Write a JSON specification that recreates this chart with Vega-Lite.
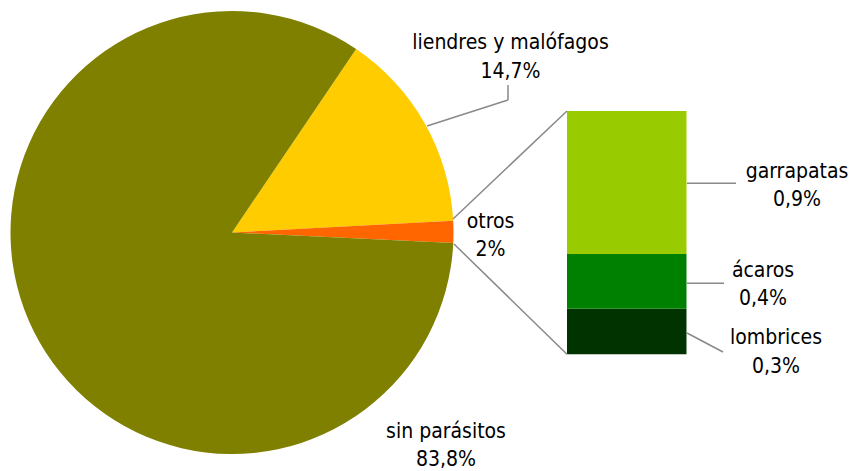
{
  "$schema": "https://vega.github.io/schema/vega-lite/v6.json",
  "width": 854,
  "height": 471,
  "padding": 0,
  "autosize": {"type": "none"},
  "background": "white",
  "config": {
    "view": {"stroke": null},
    "text": {"lineBreak": "\n", "font": "DejaVu Sans Condensed, DejaVu Sans", "fontSize": 21, "lineHeight": 28.5, "align": "center", "baseline": "middle", "color": "#000000"}
  },
  "data": {"values": [
    {"categoria": "liendres y malófagos", "valor": 14.7, "etiqueta": "14,7%", "grupo": "circular", "orden": 1},
    {"categoria": "otros", "valor": 1.6, "etiqueta": "2%", "grupo": "circular", "orden": 2},
    {"categoria": "sin parásitos", "valor": 83.8, "etiqueta": "83,8%", "grupo": "circular", "orden": 3},
    {"categoria": "lombrices", "valor": 0.30, "etiqueta": "0,3%", "grupo": "barra", "orden": 1},
    {"categoria": "ácaros", "valor": 0.36, "etiqueta": "0,4%", "grupo": "barra", "orden": 2},
    {"categoria": "garrapatas", "valor": 0.94, "etiqueta": "0,9%", "grupo": "barra", "orden": 3}
  ]},
  "resolve": {"scale": {"y": "independent"}},
  "layer": [
    {
      "transform": [{"filter": "datum.grupo === 'circular'"}],
      "mark": {"type": "arc", "outerRadius": 221.5},
      "encoding": {
        "theta": {"field": "valor", "type": "quantitative", "stack": true, "scale": {"range": [0.595, 6.8782]}},
        "order": {"field": "orden", "type": "quantitative"},
        "color": {"field": "categoria", "type": "nominal", "legend": null,
          "scale": {"domain": ["sin parásitos", "liendres y malófagos", "otros", "garrapatas", "ácaros", "lombrices"],
                    "range": ["#808000", "#FFCC00", "#FF6600", "#99CC00", "#008000", "#003300"]}},
        "x": {"datum": 232, "type": "quantitative", "scale": {"domain": [0, 854], "nice": false, "zero": false}, "axis": null},
        "y": {"datum": 232.5, "type": "quantitative", "scale": {"domain": [0, 471], "reverse": true, "nice": false, "zero": false}, "axis": null}
      }
    },
    {
      "transform": [
        {"filter": "datum.grupo === 'barra'"},
        {"stack": "valor", "groupby": [], "sort": [{"field": "orden", "order": "ascending"}], "as": ["v0", "v1"]}
      ],
      "mark": {"type": "bar"},
      "encoding": {
        "x": {"datum": 567, "type": "quantitative", "scale": {"domain": [0, 854], "nice": false, "zero": false}, "axis": null},
        "x2": {"datum": 686.5},
        "y": {"field": "v0", "type": "quantitative", "scale": {"domain": [-0.7675, 2.33], "nice": false, "zero": false}, "axis": null},
        "y2": {"field": "v1"},
        "color": {"field": "categoria", "type": "nominal", "legend": null}
      }
    },
    {
      "data": {"values": [{}]},
      "layer": [
        {"mark": {"type": "rule", "color": "#898989", "strokeWidth": 1.5},
         "encoding": {"x": {"datum": 427, "type": "quantitative"}, "y": {"datum": 126, "type": "quantitative"}, "x2": {"datum": 508}, "y2": {"datum": 100}}},
        {"mark": {"type": "rule", "color": "#898989", "strokeWidth": 1.5},
         "encoding": {"x": {"datum": 508, "type": "quantitative"}, "y": {"datum": 100, "type": "quantitative"}, "x2": {"datum": 508}, "y2": {"datum": 85}}},
        {"mark": {"type": "rule", "color": "#898989", "strokeWidth": 1.5},
         "encoding": {"x": {"datum": 453, "type": "quantitative"}, "y": {"datum": 219, "type": "quantitative"}, "x2": {"datum": 567}, "y2": {"datum": 111}}},
        {"mark": {"type": "rule", "color": "#898989", "strokeWidth": 1.5},
         "encoding": {"x": {"datum": 454, "type": "quantitative"}, "y": {"datum": 244, "type": "quantitative"}, "x2": {"datum": 567}, "y2": {"datum": 354.3}}},
        {"mark": {"type": "rule", "color": "#898989", "strokeWidth": 1.5},
         "encoding": {"x": {"datum": 687, "type": "quantitative"}, "y": {"datum": 183.3, "type": "quantitative"}, "x2": {"datum": 736}, "y2": {"datum": 183.3}}},
        {"mark": {"type": "rule", "color": "#898989", "strokeWidth": 1.5},
         "encoding": {"x": {"datum": 687, "type": "quantitative"}, "y": {"datum": 283.3, "type": "quantitative"}, "x2": {"datum": 724}, "y2": {"datum": 283.3}}},
        {"mark": {"type": "rule", "color": "#898989", "strokeWidth": 1.5},
         "encoding": {"x": {"datum": 687, "type": "quantitative"}, "y": {"datum": 333, "type": "quantitative"}, "x2": {"datum": 723}, "y2": {"datum": 352}}}
      ],
      "encoding": {
        "x": {"type": "quantitative", "scale": {"domain": [0, 854], "nice": false, "zero": false}, "axis": null},
        "y": {"type": "quantitative", "scale": {"domain": [0, 471], "reverse": true, "nice": false, "zero": false}, "axis": null}
      }
    },
    {
      "transform": [{"calculate": "datum.categoria + '\\n' + datum.etiqueta", "as": "rotulo"}],
      "layer": [
        {"transform": [{"filter": "datum.categoria === 'liendres y malófagos'"}], "mark": {"type": "text"},
         "encoding": {"x": {"datum": 510.5, "type": "quantitative"}, "y": {"datum": 43, "type": "quantitative"}}},
        {"transform": [{"filter": "datum.categoria === 'otros'"}], "mark": {"type": "text"},
         "encoding": {"x": {"datum": 490.5, "type": "quantitative"}, "y": {"datum": 221.7, "type": "quantitative"}}},
        {"transform": [{"filter": "datum.categoria === 'sin parásitos'"}], "mark": {"type": "text"},
         "encoding": {"x": {"datum": 446, "type": "quantitative"}, "y": {"datum": 431.7, "type": "quantitative"}}},
        {"transform": [{"filter": "datum.categoria === 'garrapatas'"}], "mark": {"type": "text"},
         "encoding": {"x": {"datum": 797, "type": "quantitative"}, "y": {"datum": 171.7, "type": "quantitative"}}},
        {"transform": [{"filter": "datum.categoria === 'ácaros'"}], "mark": {"type": "text"},
         "encoding": {"x": {"datum": 763, "type": "quantitative"}, "y": {"datum": 270.7, "type": "quantitative"}}},
        {"transform": [{"filter": "datum.categoria === 'lombrices'"}], "mark": {"type": "text"},
         "encoding": {"x": {"datum": 776, "type": "quantitative"}, "y": {"datum": 338.3, "type": "quantitative"}}}
      ],
      "encoding": {
        "text": {"field": "rotulo", "type": "nominal"},
        "x": {"type": "quantitative", "scale": {"domain": [0, 854], "nice": false, "zero": false}, "axis": null},
        "y": {"type": "quantitative", "scale": {"domain": [0, 471], "reverse": true, "nice": false, "zero": false}, "axis": null}
      }
    }
  ]
}
